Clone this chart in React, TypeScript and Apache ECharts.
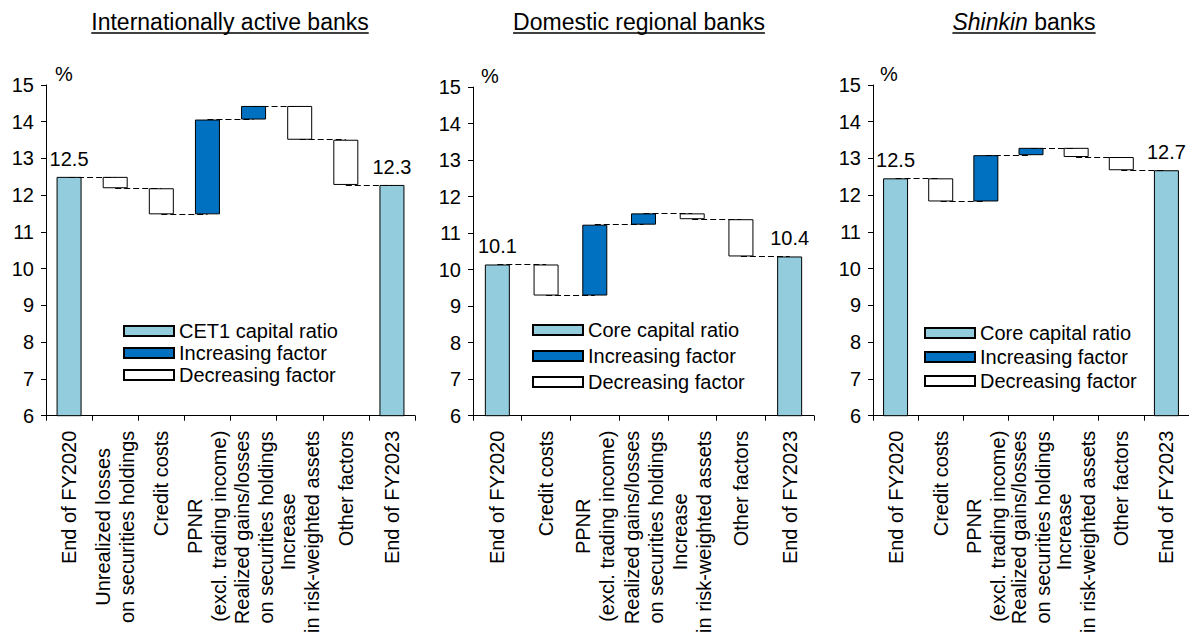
import React, { useEffect, useRef } from 'react';
import * as echarts from 'echarts';

// ---- Data ----
const intlCategories = [
  'End of FY2020',
  'Unrealized losses\non securities holdings',
  'Credit costs',
  'PPNR\n(excl. trading income)',
  'Realized gains/losses\non securities holdings',
  'Increase\nin risk-weighted assets',
  'Other factors',
  'End of FY2023',
];
// running level (%) after each step; first and last are the ratio totals
const intlLevels = [12.5, 12.19, 11.48, 14.06, 14.43, 13.51, 12.28, 12.28];

const regionalCategories = [
  'End of FY2020',
  'Credit costs',
  'PPNR\n(excl. trading income)',
  'Realized gains/losses\non securities holdings',
  'Increase\nin risk-weighted assets',
  'Other factors',
  'End of FY2023',
];
const regionalLevels = [10.14, 9.29, 11.23, 11.54, 11.38, 10.36, 10.36];

const shinkinCategories = [
  'End of FY2020',
  'Credit costs',
  'PPNR\n(excl. trading income)',
  'Realized gains/losses\non securities holdings',
  'Increase\nin risk-weighted assets',
  'Other factors',
  'End of FY2023',
];
const shinkinLevels = [12.46, 11.83, 13.09, 13.29, 13.04, 12.68, 12.68];

const yTicks = [6, 7, 8, 9, 10, 11, 12, 13, 14, 15];

const titles = ['Internationally active banks', 'Domestic regional banks', 'Shinkin banks'];
const totalNames = ['CET1 capital ratio', 'Core capital ratio', 'Core capital ratio'];
const incName = 'Increasing factor';
const decName = 'Decreasing factor';

// ---- Styles ----
const FONT = "'Liberation Sans', Arial, sans-serif";
const LIGHT = '#93CDDD';
const DARK = '#0070C0';

const panels = [
  {
    categories: intlCategories, levels: intlLevels, totalName: totalNames[0], title: titles[0],
    grid: { left: 46, top: 85, width: 369, height: 334 },
    legend: { left: 118, top: 316, itemGap: 2 },
    titleX: 230, pctPad: 9,
  },
  {
    categories: regionalCategories, levels: regionalLevels, totalName: totalNames[1], title: titles[1],
    grid: { left: 473, top: 87, width: 341, height: 331 },
    legend: { left: 527, top: 315, itemGap: 6 },
    titleX: 639, pctPad: 8,
  },
  {
    categories: shinkinCategories, levels: shinkinLevels, totalName: totalNames[2], title: titles[2],
    grid: { left: 873, top: 85, width: 325.5, height: 334 },
    legend: { left: 919, top: 318, itemGap: 4 },
    titleX: 1024, pctPad: 7,
  },
];

function measure(text: string, font: string): number {
  const c = document.createElement('canvas');
  const ctx = c.getContext('2d');
  if (!ctx) return text.length * 10;
  ctx.font = font;
  return ctx.measureText(text).width;
}

function buildOption() {
  const grid: any[] = [];
  const xAxis: any[] = [];
  const yAxis: any[] = [];
  const series: any[] = [];
  const legend: any[] = [];
  const graphic: any[] = [];

  const TITLE_SIZE = 23;

  panels.forEach((p, k) => {
    const n = p.levels.length;
    grid.push({ ...p.grid, containLabel: false });
    xAxis.push({
      type: 'category',
      gridIndex: k,
      data: p.categories,
      boundaryGap: true,
      axisLine: { lineStyle: { color: '#000', width: 1 } },
      axisTick: { show: true, alignWithLabel: false, length: 5, lineStyle: { color: '#000' } },
      axisLabel: {
        interval: 0,
        rotate: 90,
        margin: 15,
        color: '#000',
        fontSize: 20,
        fontFamily: FONT,
        formatter: (v: string) => v.split('\n').map((l) => `{c|${l}}`).join('\n'),
        rich: { c: { align: 'center', fontSize: 20, fontFamily: FONT, color: '#000', lineHeight: 24 } },
      },
      splitLine: { show: false },
    });
    yAxis.push({
      type: 'value',
      gridIndex: k,
      min: yTicks[0],
      max: yTicks[yTicks.length - 1],
      interval: 1,
      name: '%',
      nameLocation: 'end',
      nameGap: 11,
      nameTextStyle: { fontSize: 20, fontFamily: FONT, color: '#000', align: 'left', verticalAlign: 'middle', padding: [0, 0, 0, p.pctPad] },
      axisLine: { show: true, lineStyle: { color: '#000', width: 1 } },
      axisTick: { show: true, inside: false, length: 5, lineStyle: { color: '#000' } },
      axisLabel: { color: '#000', fontSize: 20, fontFamily: FONT, margin: 12 },
      splitLine: { show: false },
    });

    const base: any[] = [];
    const total: any[] = [];
    const inc: any[] = [];
    const dec: any[] = [];
    for (let i = 0; i < n; i++) {
      if (i === 0 || i === n - 1) {
        base.push(0);
        total.push(p.levels[i]);
        inc.push('-');
        dec.push('-');
      } else {
        const prev = p.levels[i - 1];
        const cur = p.levels[i];
        base.push(Math.min(prev, cur));
        total.push('-');
        inc.push(cur > prev ? +(cur - prev).toFixed(4) : '-');
        dec.push(cur < prev ? +(prev - cur).toFixed(4) : '-');
      }
    }
    const connectors: any[] = [];
    for (let i = 0; i < n - 1; i++) {
      connectors.push([{ coord: [i, p.levels[i]] }, { coord: [i + 1, p.levels[i]] }]);
    }
    const stack = 'wf' + k;
    const common = { type: 'bar', xAxisIndex: k, yAxisIndex: k, stack, barWidth: 25 };
    series.push({
      ...common,
      name: 'base' + k,
      data: base,
      silent: true,
      itemStyle: { color: 'rgba(0,0,0,0)', borderWidth: 0 },
      markLine: {
        silent: true,
        symbol: ['none', 'none'],
        label: { show: false },
        lineStyle: { color: '#000', width: 1, type: [6, 3] },
        data: connectors,
      },
    });
    series.push({
      ...common,
      name: p.totalName,
      data: total,
      itemStyle: { color: LIGHT, borderColor: '#000', borderWidth: 1 },
      label: {
        show: true,
        position: 'top',
        distance: 8,
        color: '#000',
        fontSize: 20,
        fontFamily: FONT,
        formatter: (pp: any) => (Math.round(pp.value * 10) / 10).toFixed(1),
      },
    });
    series.push({
      ...common,
      name: incName,
      data: inc,
      itemStyle: { color: DARK, borderColor: '#000', borderWidth: 1 },
    });
    series.push({
      ...common,
      name: decName,
      data: dec,
      itemStyle: { color: '#ffffff', borderColor: '#000', borderWidth: 1 },
    });

    legend.push({
      orient: 'vertical',
      left: p.legend.left,
      top: p.legend.top,
      itemGap: p.legend.itemGap,
      itemWidth: 50,
      itemHeight: 10,
      icon: 'rect',
      selectedMode: false,
      data: [p.totalName, incName, decName],
      textStyle: { fontSize: 20, fontFamily: FONT, color: '#000' },
    });

    // title + underline
    let w: number;
    if (k === 2) {
      const [first, ...rest] = p.title.split(' ');
      const restText = ' ' + rest.join(' ');
      w = measure(first, `italic ${TITLE_SIZE}px ${FONT}`) + measure(restText, `${TITLE_SIZE}px ${FONT}`);
      graphic.push({
        type: 'text',
        x: p.titleX,
        y: 22,
        style: {
          text: `{i|${first}}${restText}`,
          fontSize: TITLE_SIZE,
          fontFamily: FONT,
          fill: '#000',
          align: 'center',
          verticalAlign: 'middle',
          rich: { i: { fontStyle: 'italic', fontSize: TITLE_SIZE, fontFamily: FONT, fill: '#000' } },
        },
      });
    } else {
      w = measure(p.title, `${TITLE_SIZE}px ${FONT}`);
      graphic.push({
        type: 'text',
        x: p.titleX,
        y: 22,
        style: {
          text: p.title,
          fontSize: TITLE_SIZE,
          fontFamily: FONT,
          fill: '#000',
          align: 'center',
          verticalAlign: 'middle',
        },
      });
    }
    graphic.push({
      type: 'line',
      shape: { x1: p.titleX - w / 2, y1: 33, x2: p.titleX + w / 2, y2: 33 },
      style: { stroke: '#000', lineWidth: 1.5 },
    });
  });

  return {
    animation: false,
    backgroundColor: '#ffffff',
    textStyle: { fontFamily: FONT },
    grid,
    xAxis,
    yAxis,
    series,
    legend,
    graphic,
  };
}

export default function App() {
  const ref = useRef<HTMLDivElement>(null);
  useEffect(() => {
    if (!ref.current) return;
    const chart = echarts.init(ref.current, null, { renderer: 'svg' });
    chart.setOption(buildOption() as any);
    return () => chart.dispose();
  }, []);
  return (
    <div
      ref={ref}
      style={{ position: 'fixed', left: 0, top: 0, width: 1189, height: 636, background: '#fff' }}
    />
  );
}
